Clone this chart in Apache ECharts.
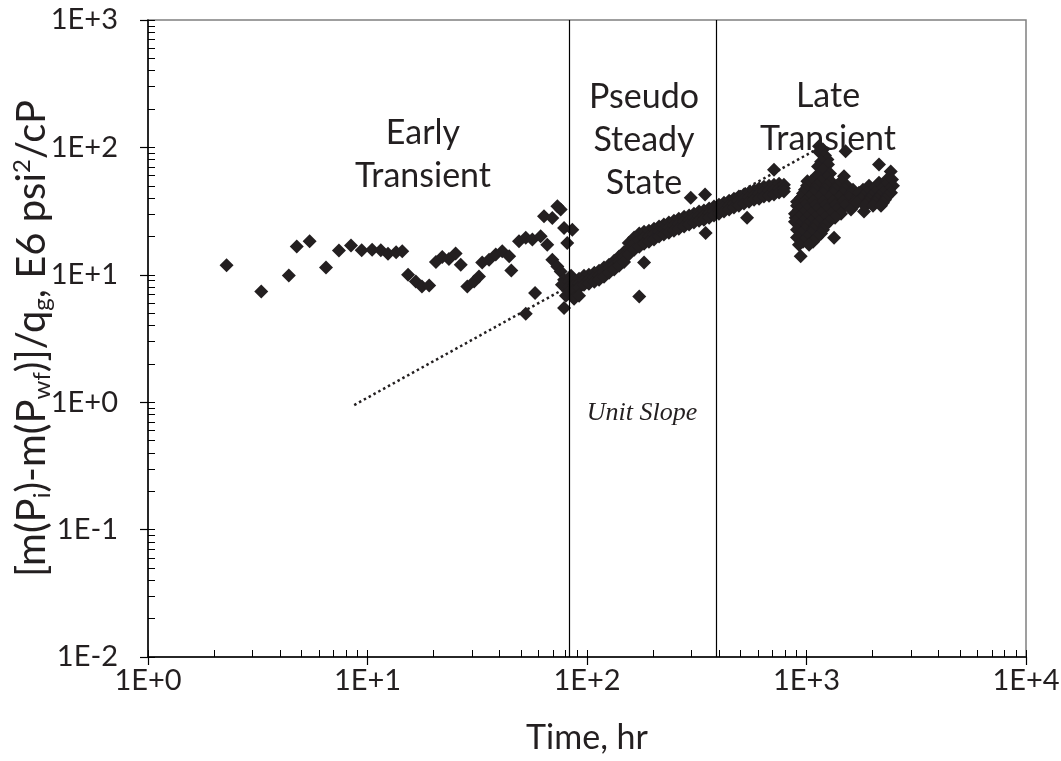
<!DOCTYPE html>
<html><head><meta charset="utf-8">
<script src="https://cdn.jsdelivr.net/npm/echarts@6/dist/echarts.min.js"></script>
<style>html,body{margin:0;padding:0;background:#fff}#c{width:1061px;height:761px}</style>
</head><body><div id="c"></div>
<script>
// ---- data (time in hr, normalized pseudo-pressure in E6 psi^2/cP) ----
const earlyTransient = [
  [2.28,11.9],[3.28,7.41],[4.38,9.89],[4.76,16.7],[5.45,18.3],[6.47,11.4],[7.41,15.5],[8.41,17.0],
  [9.41,15.6],[10.5,15.7],[11.5,15.6],[12.4,14.6],[13.5,15.0],[14.4,15.3],[15.3,10.0],[16.6,8.87],
  [17.7,8.11],[19.1,8.26],[20.5,12.6],[21.9,13.8],[23.5,13.3],[25.2,14.7],[26.6,12.0],[28.5,8.11],
  [30.6,8.87],[32.2,9.71],[33.3,12.5],[35.8,13.1],[38.4,14.4],[41.1,15.3],[44.2,14.0],[45.2,10.8],
  [49.0,18.3],[52.6,19.5],[56.4,18.9],[61.5,20.1],[65.9,17.2],[63.7,28.8],[69.5,27.9],[73.3,34.5],
  [75.9,32.5],[78.6,23.3],[85.7,22.6],[81.3,17.8],[69.5,13.1],[73.3,11.6],[75.9,10.6],[78.6,9.15],
  [80.0,7.87],[58.0,7.19],[52.6,4.94],[78.6,5.48],
  [76.9,8.36],[80.2,6.85],[84.6,9.82]
];
const pseudoSteady = [
  [82.8,8.82],[82.8,8.06],[82.8,7.37],[87.3,8.99],[87.3,8.21],[87.3,7.50],[87.3,6.49],[92.0,9.30],[92.0,8.58],[92.0,7.92],[92.0,6.85],
  [96.9,9.82],[96.9,9.06],[96.9,8.36],[102,10.0],[102,9.23],[102,8.51],[108,10.4],[108,9.58],[108,8.82],
  [113.5,10.75],[113.5,9.92],[113.5,9.15],[119.5,11.4],[119.5,10.5],[119.5,9.64],
  [126,12.0],[126,11.2],[126,10.4],[133,12.9],[133,11.9],[133,11.0],[140,13.9],[140,12.8],[140,11.8],
  [147.5,15.1],[147.5,13.8],[147.5,12.6],[155,17.8],[155,16.0],[155,14.4],[164,19.6],[164,17.5],[164,15.7],
  [173,21.1],[173,18.7],[173,16.6],[182,21.8],[182,19.5],[182,17.5],[191.5,22.2],[191.5,20.1],[191.5,18.2],
  [202,23.0],[202,20.8],[202,18.9],[213,23.9],[213,21.9],[213,20.0],[224,24.8],[224,22.7],[224,20.7],
  [236,25.7],[236,23.5],[236,21.4],[249,26.6],[249,24.3],[249,22.2],[262,27.6],[262,25.2],[262,23.0],
  [277,28.6],[277,26.1],[277,23.9],[292,29.2],[292,26.9],[292,24.8],[307,30.2],[307,27.9],[307,25.7],
  [324,31.4],[324,28.9],[324,26.6],[341,31.9],[341,29.4],[341,27.1],[360,33.1],[360,30.5],[360,28.1],
  [379,34.3],[379,31.6],[379,29.2],[399,35.5],[399,32.7],[399,30.2],[421,36.8],[421,34.0],[421,31.4],
  [444,38.2],[444,35.2],[444,32.5],[467,39.6],[467,36.5],[467,33.7],[492,41.1],[492,37.9],[492,34.9],
  [519,42.6],[519,39.3],[519,36.2],[547,44.2],[547,40.7],[547,37.5],[577,45.8],[577,42.2],[577,38.9],
  [608,47.5],[608,43.4],[608,39.6],[640,49.2],[640,45.0],[640,41.1],[675,50.1],[675,45.8],[675,41.8],
  [711,51.0],[711,46.6],[711,42.6],[750,51.9],[750,47.9],[750,44.2],[789,51.0],[789,47.9],[789,45.0],
  [173,6.77],[182,12.5],[297,40.2],[345,42.6],[347,21.3],[536,28.1],[711,66.9]
];
const lateTransient = [
  [1140,102],[1507,93.2],[2140,73.3],[1009,54.2],[1482,59.4],[941,14.0],[1335,19.5],[893,28.1],
  [2420,64.6],[1828,31.4],
  [1140,92.6],[1189,96.1],[1214,86.2],[1246,80.2],[1165,77.3],[1253,73.3],[1128,70.7],[1189,66.9],
  [1280,62.3],[1116,60.1],[1240,58.0],
  [1048,53.9],[1165,53.9],[1293,53.9],[1437,53.9],
  [1005,50.1],[1116,50.1],[1240,50.1],[1377,50.1],[1529,50.1],
  [984,46.6],[1093,46.6],[1214,46.6],[1349,46.6],[1498,46.6],[1629,46.6],
  [964,43.4],[1071,43.4],[1189,43.4],[1320,43.4],[1467,43.4],[1595,43.4],
  [944,40.3],[1027,40.3],[1140,40.3],[1266,40.3],[1407,40.3],[1562,40.3],[1699,40.3],
  [905,37.5],[984,37.5],[1071,37.5],[1189,37.5],[1320,37.5],[1467,37.5],[1663,37.5],
  [905,34.9],[984,34.9],[1093,34.9],[1214,34.9],[1349,34.9],[1498,34.9],
  [924,32.5],[1005,32.5],[1116,32.5],[1240,32.5],[1377,32.5],[1595,32.5],
  [886,30.2],[964,30.2],[1048,30.2],[1165,30.2],[1293,30.2],[1437,30.2],
  [924,28.1],[1005,28.1],[1093,28.1],[1214,28.1],[1349,28.1],
  [886,26.1],[964,26.1],[1048,26.1],[1140,26.1],[1266,26.1],
  [924,24.4],[1005,24.4],[1093,24.4],[1214,24.4],
  [905,22.6],[984,22.6],[1071,22.6],[1189,22.6],
  [944,21.1],[1048,21.1],[1165,21.1],
  [905,19.6],[1005,19.6],[1116,19.6],
  [964,18.2],[1071,18.2],
  [924,17.2],[1027,17.2],
  [2139,52.9],[2376,52.9],
  [2326,55.9],[2452,55.9],
  [1926,50.1],[2096,50.1],[2278,50.1],[2478,50.1],
  [1809,46.6],[2009,46.6],[2185,46.6],[2376,46.6],
  [1735,44.1],[1886,44.1],[2052,44.1],[2231,44.1],[2427,44.1],
  [1809,41.1],[1967,41.1],[2139,41.1],[2326,41.1],
  [1772,38.9],[1926,38.9],[2096,38.9],[2278,38.9],
  [1699,36.8],[1886,36.8],[2052,36.8],[2231,36.8],
  [1848,34.9],[2009,34.9],[2185,34.9]
];
const unitSlopeLine = [[8.7,0.95],[1165,101]];
const regimeBounds = [82.8, 386];
const xMajor = [1,10,100,1000,10000];
const xMinor = [1,2,3,4,5,6,7,8,9,10,20,30,40,50,60,70,80,90,100,200,300,400,500,600,700,800,900,
  1000,2000,3000,4000,5000,6000,7000,8000,9000,10000];
const yMajor = [0.01,0.1,1,10,100,1000];
const yMinor = [0.01,0.02,0.03,0.04,0.05,0.06,0.07,0.08,0.09,0.1,0.2,0.3,0.4,0.5,0.6,0.7,0.8,0.9,
  1,2,3,4,5,6,7,8,9,10,20,30,40,50,60,70,80,90,100,200,300,400,500,600,700,800,900,1000];
const xTitle = 'Time, hr';
const yTitle = '[m(P{sub|i})-m(P{sub|wf})]/q{sub|g}, E6 psi{sup|2}/cP';
const regimeLabels = ['Early\nTransient', 'Pseudo\nSteady\nState', 'Late\nTransient'];
const slopeLabel = 'Unit Slope';

const INK = '#231f20';
const FONT = 'Lato';
const fmt = v => { const e = Math.round(Math.log10(v)); return '1E' + (e >= 0 ? '+' : '') + e; };

const chart = echarts.init(document.getElementById('c'), null, {renderer: 'canvas'});
const scatterStyle = {type: 'scatter', symbol: 'diamond', symbolSize: 14,
  itemStyle: {color: INK, opacity: 1}, xAxisIndex: 0, yAxisIndex: 0, z: 3, silent: true};
const annot = (text, x, y) => ({type: 'text', x, y, z: 10, style: {text, fontFamily: FONT, fontSize: 34,
  lineHeight: 43, fill: INK, align: 'center', verticalAlign: 'middle'}});

chart.setOption({
  animation: false,
  backgroundColor: '#fff',
  grid: {left: 148, right: 35, top: 20, bottom: 104, show: true, borderColor: '#808080', borderWidth: 1.5,
         containLabel: false, outerBoundsMode: 'none'},
  xAxis: [
    {type: 'log', logBase: 10, min: 1, max: 10000, position: 'bottom',
     axisLine: {show: true, lineStyle: {color: '#000', width: 1.5}},
     axisTick: {show: true, inside: false, length: 8, customValues: xMajor, lineStyle: {color: '#000', width: 1.2}},
     axisLabel: {show: true, customValues: xMajor, formatter: fmt, fontFamily: FONT, fontSize: 29, color: INK, margin: 9},
     splitLine: {show: false}, minorTick: {show: false},
     name: xTitle, nameLocation: 'middle', nameGap: 64, nameMoveOverlap: false,
     nameTextStyle: {fontFamily: FONT, fontSize: 34, color: INK}},
    {type: 'log', logBase: 10, min: 1, max: 10000, position: 'bottom',
     axisLine: {show: false},
     axisTick: {show: true, inside: true, length: 7, customValues: xMinor, lineStyle: {color: '#000', width: 1}},
     axisLabel: {show: false}, splitLine: {show: false}}
  ],
  yAxis: [
    {type: 'log', logBase: 10, min: 0.01, max: 1000, position: 'left',
     axisLine: {show: true, lineStyle: {color: '#000', width: 1.5}},
     axisTick: {show: true, inside: false, length: 8, customValues: yMajor, lineStyle: {color: '#000', width: 1.2}},
     axisLabel: {show: true, customValues: yMajor, formatter: fmt, fontFamily: FONT, fontSize: 29, color: INK, margin: 30},
     splitLine: {show: false}, minorTick: {show: false},
     name: yTitle, nameLocation: 'middle', nameGap: 94, nameMoveOverlap: false,
     nameTextStyle: {fontFamily: FONT, fontSize: 40, color: INK, lineHeight: 44,
       rich: {
         sub: {fontFamily: FONT, fontSize: 24, color: INK, verticalAlign: 'bottom', lineHeight: 16},
         sup: {fontFamily: FONT, fontSize: 24, color: INK, verticalAlign: 'top', lineHeight: 28}
       }}},
    {type: 'log', logBase: 10, min: 0.01, max: 1000, position: 'left',
     axisLine: {show: false},
     axisTick: {show: true, inside: true, length: 7, customValues: yMinor, lineStyle: {color: '#000', width: 1}},
     axisLabel: {show: false}, splitLine: {show: false}}
  ],
  series: [
    {type: 'line', data: unitSlopeLine, symbol: 'none', xAxisIndex: 0, yAxisIndex: 0, z: 2, silent: true,
     lineStyle: {color: INK, width: 2.5, type: [2.5, 3]},
     markLine: {silent: true, symbol: ['none', 'none'], label: {show: false},
       lineStyle: {color: '#000', width: 1.2, type: 'solid'},
       data: regimeBounds.map(v => ({xAxis: v}))}},
    Object.assign({name: 'Early', data: earlyTransient}, scatterStyle),
    Object.assign({name: 'PSS', data: pseudoSteady}, scatterStyle),
    Object.assign({name: 'Late', data: lateTransient}, scatterStyle)
  ],
  graphic: [
    annot(regimeLabels[0], 423, 155),
    annot(regimeLabels[1], 644, 140),
    annot(regimeLabels[2], 828, 118),
    {type: 'text', x: 642, y: 413, z: 10, style: {text: slopeLabel, fontFamily: '"Liberation Serif", serif',
      fontStyle: 'italic', fontSize: 26, fill: INK, align: 'center', verticalAlign: 'middle'}}
  ]
});
</script></body></html>
